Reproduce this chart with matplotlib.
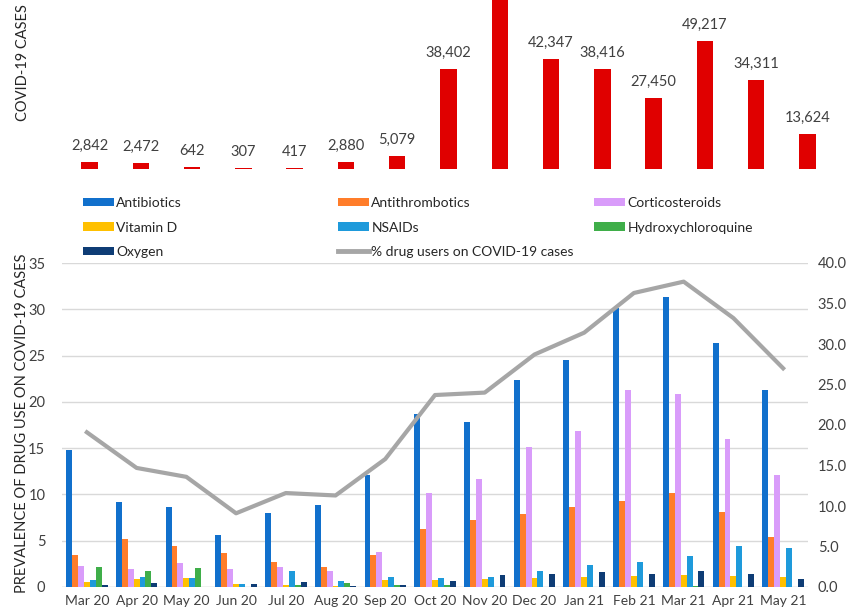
import numpy as np
import matplotlib.pyplot as plt
from matplotlib.patches import Patch
from matplotlib.lines import Line2D
from matplotlib.ticker import FormatStrFormatter

plt.rcParams['font.family'] = ['Lato', 'DejaVu Sans']

months = ["Mar 20", "Apr 20", "May 20", "Jun 20", "Jul 20", "Aug 20", "Sep 20", "Oct 20",
          "Nov 20", "Dec 20", "Jan 21", "Feb 21", "Mar 21", "Apr 21", "May 21"]

# top panel: monthly cases (Nov 20 is cut off in the source, value estimated)
cases = [2842, 2472, 642, 307, 417, 2880, 5079, 38402, 72000, 42347, 38416, 27450, 49217, 34311, 13624]

# bottom panel: prevalence of drug use (%)
antibiotics = [14.75, 9.2, 8.6, 5.6, 8.0, 8.9, 12.1, 18.7, 17.8, 22.4, 24.55, 30.15, 31.3, 26.35, 21.3]
antithrombotics = [3.45, 5.15, 4.45, 3.65, 2.65, 2.2, 3.45, 6.25, 7.2, 7.9, 8.65, 9.25, 10.15, 8.1, 5.4]
corticosteroids = [2.3, 1.95, 2.55, 1.95, 2.2, 1.75, 3.8, 10.15, 11.7, 15.1, 16.9, 21.3, 20.9, 16.0, 12.1]
vitamin_d = [0.55, 0.9, 0.95, 0.3, 0.2, 0.15, 0.75, 0.75, 0.85, 0.95, 1.05, 1.2, 1.35, 1.2, 1.05]
nsaids = [0.75, 1.05, 0.95, 0.3, 1.7, 0.65, 1.05, 0.95, 1.05, 1.75, 2.35, 2.65, 3.4, 4.45, 4.25]
hcq = [2.2, 1.7, 2.1, 0.0, 0.2, 0.4, 0.2, 0.2, 0.05, 0.0, 0.05, 0.05, 0.15, 0.05, 0.0]
oxygen = [0.2, 0.4, 0.0, 0.35, 0.5, 0.1, 0.25, 0.6, 1.3, 1.4, 1.6, 1.4, 1.7, 1.4, 0.85]

# right axis: % drug users on COVID-19 cases
pct_users = [19.1, 14.7, 13.6, 9.1, 11.6, 11.3, 15.8, 23.7, 24.0, 28.7, 31.4, 36.3, 37.7, 33.2, 27.0]

series = [
    ("Antibiotics", antibiotics, "#1170CC"),
    ("Antithrombotics", antithrombotics, "#FF7D2A"),
    ("Corticosteroids", corticosteroids, "#D99CFA"),
    ("Vitamin D", vitamin_d, "#FFC000"),
    ("NSAIDs", nsaids, "#1E9ADB"),
    ("Hydroxychloroquine", hcq, "#3FAE49"),
    ("Oxygen", oxygen, "#0E3C75"),
]

txt = "#404040"
grid = "#D9D9D9"

fig = plt.figure(figsize=(8.47, 6.10), dpi=100)

# ---- top panel
ax_top = fig.add_axes([64 / 847, 1 - 169 / 610, 769 / 847, 169 / 610])
x = np.arange(len(months))
ax_top.bar(x, cases, width=0.32, color="#E00000")
ax_top.set_xlim(-0.5, len(months) - 0.5)
top_max = 65000
ax_top.set_ylim(0, top_max)
for xi, v in zip(x, cases):
    if v + 3500 < top_max:  # label of the cut-off bar is not visible
        ax_top.text(xi, v + 3500, f"{v:,}", ha="center", va="bottom", fontsize=10.5,
                    color=txt)
ax_top.axis("off")
fig.text(23 / 847, 1 - 63 / 610, "COVID-19 CASES", rotation=90, ha="center", va="center",
         fontsize=10.5, color="#262626")

# ---- bottom panel
ax = fig.add_axes([62 / 847, 23 / 610, 746 / 847, 324 / 610])
w = 0.119
for i, (name, vals, col) in enumerate(series):
    ax.bar(x + (i - 3) * w, vals, width=w, color=col, zorder=3)
ax.set_xlim(-0.5, len(months) - 0.5)
ax.set_ylim(0, 35)
ax.set_yticks(np.arange(0, 36, 5))
ax.grid(axis="y", color=grid, linewidth=1, zorder=0)
for s in ax.spines.values():
    s.set_visible(False)
ax.axhline(0, color=grid, linewidth=1, zorder=2)
ax.set_xticks(x)
ax.set_xticklabels(months)
ax.tick_params(length=0, labelsize=10.5, colors=txt)
ax.tick_params(axis="x", labelsize=10, pad=6)
ax.tick_params(axis="y", pad=12)
fig.text(22 / 847, (610 - 423) / 610, "PREVALENCE OF DRUG USE ON COVID-19 CASES", rotation=90,
         ha="center", va="center", fontsize=10.5, color="#262626")

ax2 = ax.twinx()
ax2.plot(x, pct_users, color="#A6A6A6", linewidth=3, zorder=4)
ax2.set_ylim(0, 40)
ax2.set_yticks(np.arange(0, 41, 5))
ax2.yaxis.set_major_formatter(FormatStrFormatter("%.1f"))
for s in ax2.spines.values():
    s.set_visible(False)
ax2.tick_params(length=0, labelsize=10.5, colors=txt, pad=7)

# ---- legend, three columns laid out like the original
handles = {name: Patch(facecolor=col, edgecolor="none") for name, _, col in series}
line_h = Line2D([0], [0], color="#A6A6A6", linewidth=3.5)
cols = [
    (["Antibiotics", "Vitamin D", "Oxygen"], 83),
    (["Antithrombotics", "NSAIDs", "% drug users on COVID-19 cases"], 338),
    (["Corticosteroids", "Hydroxychloroquine"], 594),
]
for names, xpx in cols:
    hs = [line_h if n.startswith("%") else handles[n] for n in names]
    fig.legend(hs, names, loc="upper left", bbox_to_anchor=(xpx / 847, 1 - 197 / 610),
               frameon=False, fontsize=10, handlelength=2.2, handleheight=0.55,
               handletextpad=0.2, labelspacing=0.9, borderpad=0, borderaxespad=0,
               labelcolor="#262626")

fig.savefig("out.png", dpi=100)
